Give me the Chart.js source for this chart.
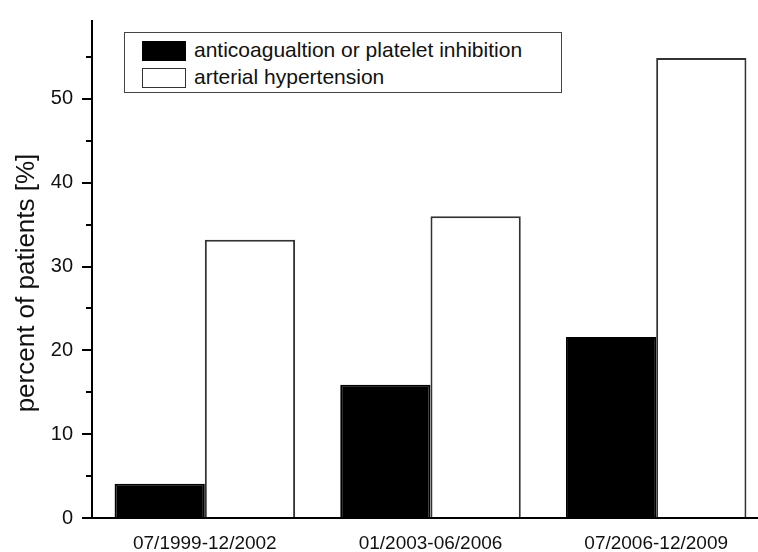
<!DOCTYPE html>
<html>
<head>
<meta charset="utf-8">
<script src="https://cdn.jsdelivr.net/npm/chart.js@4/dist/chart.umd.min.js"></script>
<style>
    html, body { margin: 0; padding: 0; background: #fff; }
    #wrap { position: relative; width: 758px; height: 552px; overflow: hidden; }
    #myChart { position: absolute; left: 0; top: 0; }
    #legend {
        position: absolute; left: 124px; top: 32px; width: 436px; height: 59px;
        border: 1.5px solid #444; background: #fff;
        font-family: "Liberation Sans", Arial, sans-serif; font-size: 21px; color: #111;
    }
    .row { position: absolute; left: 17px; height: 23px; line-height: 23px; white-space: nowrap; }
    .sw { display: inline-block; width: 44px; height: 20px; vertical-align: middle; box-sizing: border-box; margin-right: 8px; border: 1.5px solid #333; }
    #ytitle {
        position: absolute; left: -125px; top: 268px; width: 300px; height: 30px; line-height: 30px;
        text-align: center; transform: rotate(-90deg);
        font-family: "Liberation Sans", Arial, sans-serif; font-size: 26px; color: #111; white-space: nowrap;
    }
</style>
</head>
<body>
<div id="wrap">
    <canvas id="myChart" width="790" height="552"></canvas>
    <div id="legend"></div>
    <div id="ytitle"></div>
</div>
<script>
var periods = ["07/1999-12/2002", "01/2003-06/2006", "07/2006-12/2009"];
var anticoagulation = [4.1, 15.9, 21.6];
var hypertension = [33.2, 36.0, 54.9];
var seriesNames = ["anticoagualtion or platelet inhibition", "arterial hypertension"];
var yTitle = "percent of patients [%]";

var FONT = '"Liberation Sans", Arial, sans-serif';

// minor ticks half way between the labelled ones
var minorTicks = {
    id: 'minorTicks',
    afterDraw: function (chart) {
        var y = chart.scales.y;
        var ctx = chart.ctx;
        ctx.save();
        ctx.strokeStyle = '#000';
        ctx.lineWidth = 2;
        for (var v = 5; v < y.max; v += 10) {
            var py = Math.round(y.getPixelForValue(v));
            ctx.beginPath();
            ctx.moveTo(y.right - 6, py);
            ctx.lineTo(y.right, py);
            ctx.stroke();
        }
        ctx.restore();
    }
};

var ctx = document.getElementById("myChart").getContext('2d');
var myChart = new Chart(ctx, {
    type: 'bar',
    data: {
        labels: periods,
        datasets: [
            {
                label: seriesNames[0],
                data: anticoagulation,
                backgroundColor: '#000',
                borderColor: '#000',
                borderWidth: 2
            },
            {
                label: seriesNames[1],
                data: hypertension,
                backgroundColor: '#fff',
                borderColor: '#333',
                borderWidth: 2
            }
        ]
    },
    plugins: [minorTicks],
    options: {
        responsive: false,
        animation: false,
        layout: { padding: { left: 0, top: 13, right: 21, bottom: 0 } },
        plugins: {
            legend: { display: false },
            tooltip: { enabled: false }
        },
        datasets: {
            bar: { categoryPercentage: 0.8, barPercentage: 1.0 }
        },
        scales: {
            x: {
                grid: { display: false },
                border: { display: true, color: '#000', width: 2 },
                ticks: {
                    color: '#111',
                    padding: 6,
                    maxRotation: 0,
                    font: { family: FONT, size: 19 }
                },
                afterFit: function (scale) { scale.height = 34; }
            },
            y: {
                min: 0,
                max: 59.3,
                grid: {
                    drawOnChartArea: false,
                    drawTicks: true,
                    tickLength: 10,
                    color: '#000',
                    lineWidth: 2
                },
                border: { display: true, color: '#000', width: 2 },
                ticks: {
                    stepSize: 10,
                    includeBounds: false,
                    color: '#111',
                    padding: 9,
                    font: { family: FONT, size: 20 }
                },
                afterFit: function (scale) { scale.width = 92; }
            }
        }
    }
});

document.getElementById('ytitle').textContent = yTitle;

// legend box drawn from the datasets
var legend = document.getElementById('legend');
myChart.data.datasets.forEach(function (ds, i) {
    var row = document.createElement('div');
    row.className = 'row';
    row.style.top = (5 + i * 27) + 'px';
    var sw = document.createElement('span');
    sw.className = 'sw';
    sw.style.background = ds.backgroundColor;
    sw.style.borderColor = ds.borderColor;
    row.appendChild(sw);
    row.appendChild(document.createTextNode(ds.label));
    legend.appendChild(row);
});
</script>
</body>
</html>
